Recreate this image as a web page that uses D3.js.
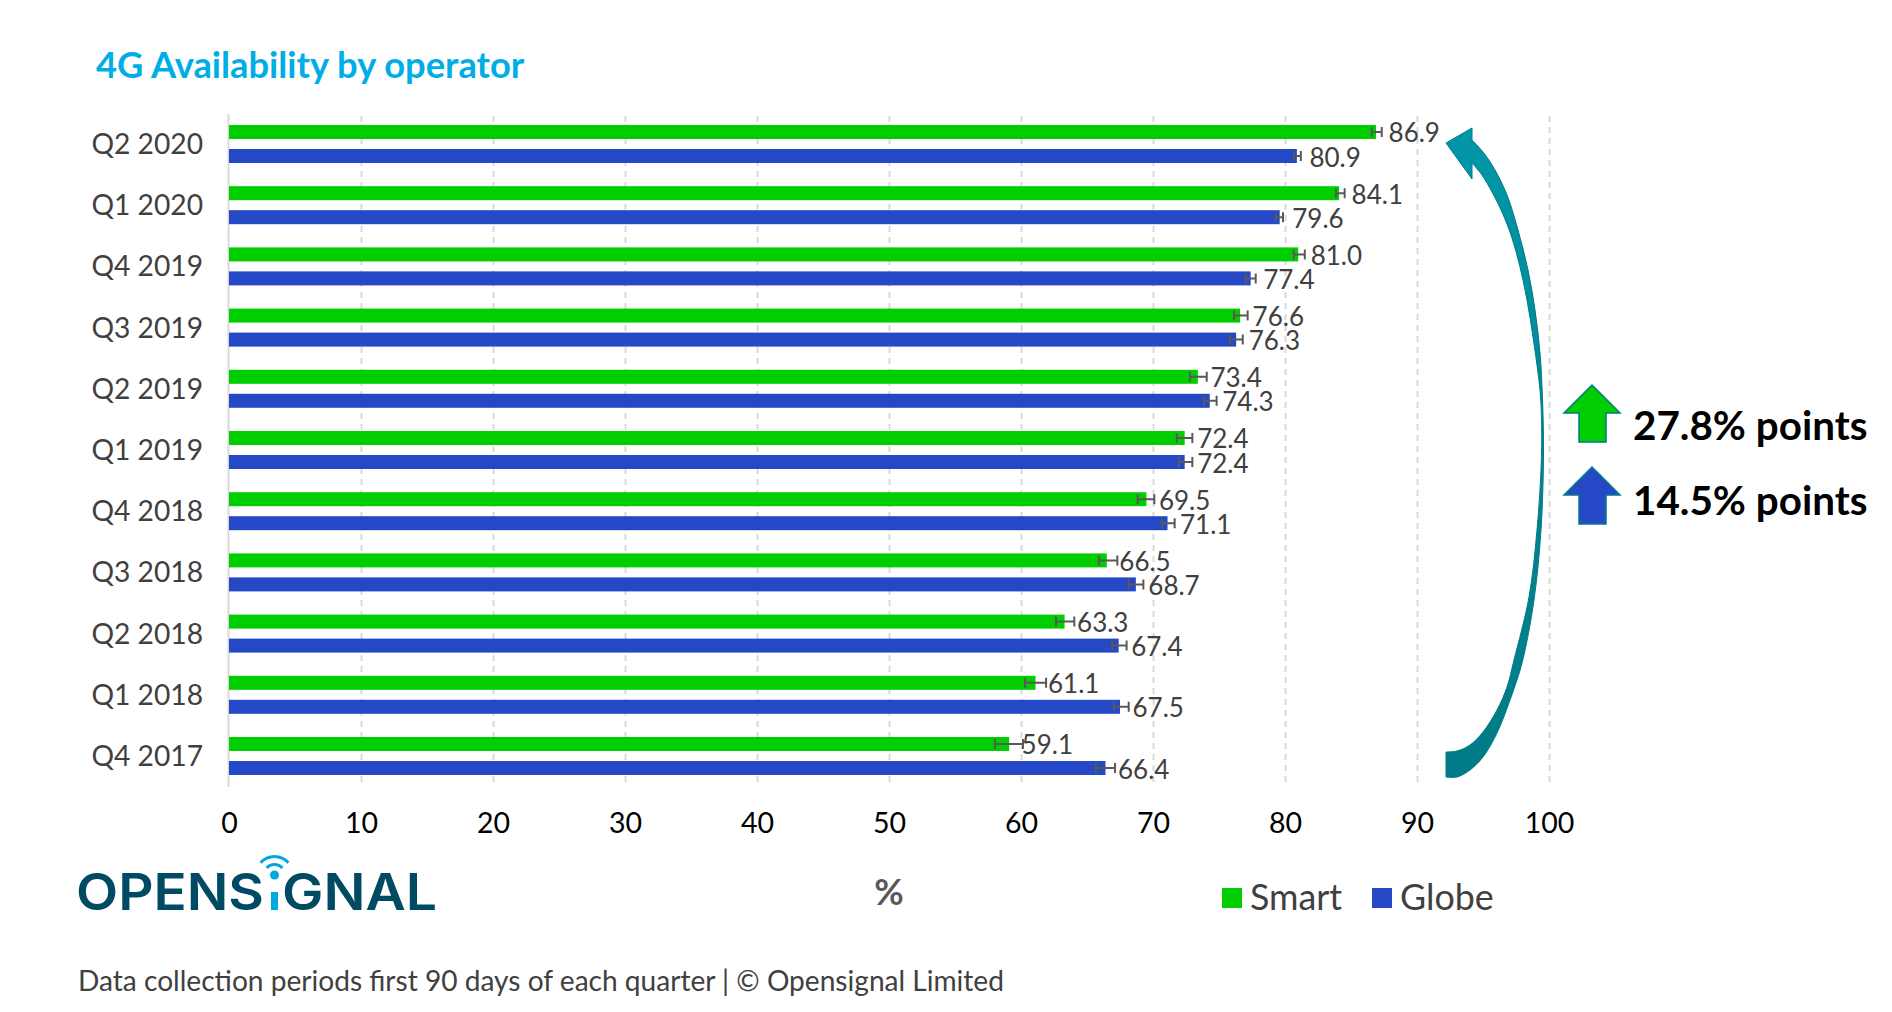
<!DOCTYPE html>
<html>
<head>
<meta charset="utf-8">
<title>4G Availability by operator</title>
<script src="https://cdn.jsdelivr.net/npm/d3@7/dist/d3.min.js"></script>
<style>
  html, body { margin: 0; padding: 0; background: #fff; overflow: hidden; }
  svg { display: block; font-family: Lato, "Open Sans", sans-serif; }
</style>
</head>
<body>
<svg id="chart" width="1892" height="1012"></svg>
<script>
// Quarterly 4G availability (%) for each operator, newest quarter first
const quarters = ["Q2 2020","Q1 2020","Q4 2019","Q3 2019","Q2 2019","Q1 2019","Q4 2018","Q3 2018","Q2 2018","Q1 2018","Q4 2017"];
const operators = ["Smart","Globe"];
const smartValues = [86.9,84.1,81.0,76.6,73.4,72.4,69.5,66.5,63.3,61.1,59.1];
const globeValues = [80.9,79.6,77.4,76.3,74.3,72.4,71.1,68.7,67.4,67.5,66.4];
// Confidence intervals drawn as error bars
const smartLow  = [86.57,83.86,80.66,76.14,72.8,71.8,68.84,65.9,62.65,60.3,58.03];
const smartHigh = [87.33,84.52,81.5,77.17,74.07,72.98,70.1,67.3,64.04,61.9,60.15];
const globeLow  = [80.68,79.3,77.02,75.83,73.86,71.95,70.68,68.16,66.9,67.05,65.68];
const globeHigh = [81.2,79.85,77.78,76.8,74.82,72.98,71.64,69.27,68.0,68.16,67.12];
const xTicks = [0,10,20,30,40,50,60,70,80,90,100];
const changeNotes = ["27.8% points","14.5% points"];

const colors = { Smart: "#00CE00", Globe: "#2549C6" };
const teal = "#007B85";
const svg = d3.select("#chart");

const x = d3.scaleLinear().domain([0, 100]).range([229, 1549]);
const y = d3.scaleBand().domain(quarters).range([113.4, 786.6]);
const ySeries = d3.scaleBand().domain(operators).range([0, y.bandwidth()])
  .paddingInner(10 / 24).paddingOuter(0.4833);

const rows = quarters.flatMap((q, i) => [
  { q, op: "Smart", v: smartValues[i], lo: smartLow[i], hi: smartHigh[i] },
  { q, op: "Globe", v: globeValues[i], lo: globeLow[i], hi: globeHigh[i] }
]);

// Title
svg.append("text").attr("x", 96).attr("y", 77.5)
  .attr("font-size", 36.3).attr("font-weight", 700).attr("fill", "#00ADE6")
  .text("4G Availability by operator");

// Value axis with dashed gridlines
const xAxis = svg.append("g").attr("transform", "translate(0,782)")
  .call(d3.axisBottom(x).tickValues(xTicks).tickSize(-668).tickPadding(31).tickFormat(d3.format("d")));
xAxis.select(".domain").remove();
xAxis.selectAll(".tick line").attr("stroke", "#D9D9D9").attr("stroke-width", 2).attr("stroke-dasharray", "6 5");
xAxis.selectAll(".tick").filter(d => d === 0).select("line").remove();
xAxis.selectAll(".tick text").attr("font-family", "Lato").attr("font-size", 28.5).attr("fill", "#000");

// Category axis
const yAxis = svg.append("g").attr("transform", "translate(228,1)")
  .call(d3.axisLeft(y).tickSize(0).tickPadding(25));
yAxis.select(".domain").attr("stroke", "#D9D9D9").attr("stroke-width", 2).attr("transform", "translate(0,-1)");
yAxis.selectAll(".tick text").attr("font-family", "Lato").attr("font-size", 28.2).attr("fill", "#404040");

// Bars
svg.append("g").selectAll("rect").data(rows).join("rect")
  .attr("x", x(0))
  .attr("y", d => y(d.q) + ySeries(d.op))
  .attr("width", d => x(d.v) - x(0))
  .attr("height", ySeries.bandwidth())
  .attr("fill", d => colors[d.op]);

// Error bars
const errorBars = svg.append("g").attr("stroke", "#595959").attr("stroke-width", 2).attr("fill", "none");
const midY = d => y(d.q) + ySeries(d.op) + ySeries.bandwidth() / 2;
errorBars.selectAll("path").data(rows).join("path")
  .attr("d", d => `M${x(d.lo)},${midY(d) - 5}V${midY(d) + 5}M${x(d.lo)},${midY(d)}H${x(d.hi)}M${x(d.hi)},${midY(d) - 5}V${midY(d) + 5}`);

// Value labels
svg.append("g").selectAll("text").data(rows).join("text")
  .attr("x", d => x(d.v) + 12.5)
  .attr("y", d => midY(d) + 10.5)
  .attr("font-size", 26).attr("fill", "#404040")
  .text(d => d.v.toFixed(1));

// Axis unit
svg.append("text").attr("x", 889).attr("y", 905).attr("text-anchor", "middle")
  .attr("font-size", 36).attr("font-weight", 700).attr("fill", "#595959").text("%");

// Legend
const legendPos = { Smart: [1222, 1250], Globe: [1372, 1400] };
const legend = svg.append("g").selectAll("g").data(operators).join("g");
legend.append("rect").attr("x", d => legendPos[d][0]).attr("y", 888).attr("width", 20).attr("height", 20)
  .attr("fill", d => colors[d]);
legend.append("text").attr("x", d => legendPos[d][1]).attr("y", 909.5)
  .attr("font-size", 35.8).attr("fill", "#404040").text(d => d);

// Footnote
svg.append("text").attr("x", 78).attr("y", 990.5).attr("font-size", 28.1).attr("fill", "#404040")
  .text("Data collection periods first 90 days of each quarter | © Opensignal Limited");

// Wordmark
const logoDark = "#004B63", logoBlue = "#00A8E0";
const logo = svg.append("g");
logo.append("text").attr("x", 76).attr("y", 910).attr("font-family", "Inter").attr("font-weight", 600)
  .attr("font-size", 51).attr("fill", logoDark)
  .attr("textLength", 188).attr("lengthAdjust", "spacingAndGlyphs").text("OPENS");
logo.append("text").attr("x", 282).attr("y", 910).attr("font-family", "Inter").attr("font-weight", 600)
  .attr("font-size", 51).attr("fill", logoDark)
  .attr("textLength", 155).attr("lengthAdjust", "spacingAndGlyphs").text("GNAL");
logo.append("rect").attr("x", 271).attr("y", 892).attr("width", 7).attr("height", 18).attr("fill", logoBlue);
logo.append("circle").attr("cx", 274.5).attr("cy", 875).attr("r", 4.5).attr("fill", logoBlue);
const wifi = d3.arc().startAngle(-0.85).endAngle(0.85);
[[9, 12], [17, 20]].forEach(([r0, r1]) => {
  logo.append("path").attr("transform", "translate(274.5,875)")
    .attr("d", wifi({ innerRadius: r0, outerRadius: r1 })).attr("fill", logoBlue);
});

// Curved growth arrow spanning the bars
const defs = svg.append("defs");
const grad = defs.append("linearGradient").attr("id", "arrowFill")
  .attr("x1", 0).attr("y1", 0).attr("x2", 0).attr("y2", 1);
grad.append("stop").attr("offset", "0%").attr("stop-color", "#0097A9");
grad.append("stop").attr("offset", "60%").attr("stop-color", "#00838F");
grad.append("stop").attr("offset", "100%").attr("stop-color", "#007A87");

const outerEdge = [[1472,140],[1483,152],[1495,170],[1507,195],[1518,230],[1528,270],[1535,310],[1540,353],[1542.5,399],[1543.5,455],[1541,530],[1534,600],[1522,663],[1510,700],[1497,733],[1483,757],[1470,770],[1457,777],[1446,777]];
const innerEdge = [[1446,752],[1457,751],[1470,745],[1483,732],[1497,710],[1507,687],[1514,660],[1529,597],[1537,530],[1541.5,455],[1540.7,399],[1538,373],[1533,337],[1527,300],[1520,267],[1512,238],[1502,212],[1492,192],[1482,175],[1472,163]];
const edge = d3.line().curve(d3.curveCatmullRom.alpha(0.5));
const arrowPath = "M1446,143L1472,128" + edge(outerEdge).replace(/^M/, "L") + edge(innerEdge).replace(/^M/, "L") + "L1472,179Z";
svg.append("path").attr("d", arrowPath).attr("fill", "url(#arrowFill)")
  .attr("stroke", teal).attr("stroke-width", 1).attr("stroke-linejoin", "miter");

// Change summary beside the arrow
const noteRows = [
  { note: changeNotes[0], color: colors.Smart, tip: 385, textX: 1633, base: 440 },
  { note: changeNotes[1], color: colors.Globe, tip: 467, textX: 1633, base: 515 }
];
noteRows.forEach(r => {
  const t = r.tip;
  svg.append("path")
    .attr("d", `M1592,${t}L1620,${t + 28}H1606V${t + 57}H1579V${t + 28}H1564Z`)
    .attr("fill", r.color).attr("stroke", teal).attr("stroke-width", 1.5);
  svg.append("text").attr("x", r.textX).attr("y", r.base)
    .attr("font-size", 40.4).attr("font-weight", 700).attr("fill", "#000").text(r.note);
});
</script>
</body>
</html>
